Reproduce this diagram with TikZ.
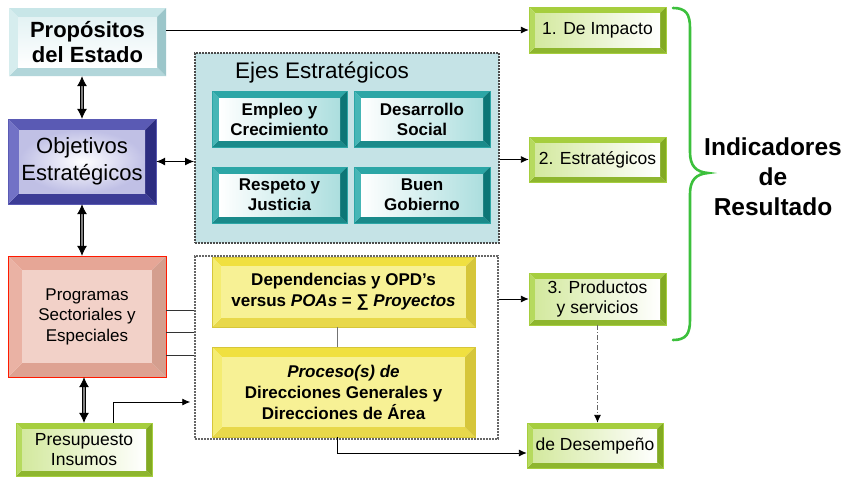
\documentclass[tikz,border=0pt]{standalone}
\usepackage{fontspec}
\setmainfont{Liberation Sans}
\usetikzlibrary{arrows.meta}
\definecolor{prT}{HTML}{C8E6E8}\definecolor{prL}{HTML}{D6EDEE}\definecolor{prR}{HTML}{9CC6CA}\definecolor{prB}{HTML}{B2D6DA}
\definecolor{obT}{HTML}{5A5AB4}\definecolor{obL}{HTML}{7272C6}\definecolor{obR}{HTML}{2C2C80}\definecolor{obB}{HTML}{3C3C96}
\definecolor{pgT}{HTML}{E6A696}\definecolor{pgL}{HTML}{EAB2A4}\definecolor{pgR}{HTML}{D49E8E}\definecolor{pgB}{HTML}{DEA292}
\definecolor{grT}{HTML}{A6CE3E}\definecolor{grL}{HTML}{B6DA5E}\definecolor{grR}{HTML}{82AA22}\definecolor{grB}{HTML}{8EB62E}
\definecolor{tlT}{HTML}{2CA6A6}\definecolor{tlL}{HTML}{46B6B6}\definecolor{tlR}{HTML}{0C7676}\definecolor{tlB}{HTML}{1A8A8A}
\definecolor{ylT}{HTML}{F0E040}\definecolor{ylL}{HTML}{F4EC72}\definecolor{ylR}{HTML}{D6C63A}\definecolor{ylB}{HTML}{E8D84A}
\definecolor{ejesfill}{HTML}{C5E3E6}
\definecolor{bracegreen}{HTML}{3CC03C}
\tikzset{
  pr-top/.style={fill=prT}, pr-left/.style={fill=prL}, pr-right/.style={fill=prR}, pr-bot/.style={fill=prB},
  pr-inner/.style={top color=prT!50, bottom color=white}, pr-border/.style={draw=none},
  pr-text/.style={font=\fontsize{22}{25}\selectfont\bfseries, align=center},
  ob-top/.style={fill=obT}, ob-left/.style={fill=obL}, ob-right/.style={fill=obR}, ob-bot/.style={fill=obB},
  ob-inner/.style={inner color=white, outer color=obL!45}, ob-border/.style={draw=obT, line width=0.8pt},
  ob-text/.style={font=\fontsize{22}{27}\selectfont, align=center},
  pg-top/.style={fill=pgT}, pg-left/.style={fill=pgL}, pg-right/.style={fill=pgR}, pg-bot/.style={fill=pgB},
  pg-inner/.style={fill=pgL!60!white}, pg-border/.style={draw=red!80!orange, line width=1pt},
  pg-text/.style={font=\fontsize{17}{20.5}\selectfont, align=center},
  gr-top/.style={fill=grT}, gr-left/.style={fill=grL}, gr-right/.style={fill=grR}, gr-bot/.style={fill=grB},
  gr-inner/.style={left color=grL!60!white, right color=white}, gr-border/.style={draw=grT, line width=0.8pt},
  gr-text/.style={font=\fontsize{17.5}{20}\selectfont, align=center},
  tl-top/.style={fill=tlT}, tl-left/.style={fill=tlL}, tl-right/.style={fill=tlR}, tl-bot/.style={fill=tlB},
  tl-inner/.style={left color=white, right color=tlL!45!white}, tl-border/.style={draw=tlT, line width=0.6pt},
  tl-text/.style={font=\fontsize{17}{20}\selectfont\bfseries, align=center},
  yl-top/.style={fill=ylT}, yl-left/.style={fill=ylL}, yl-right/.style={fill=ylR}, yl-bot/.style={fill=ylB},
  yl-inner/.style={fill=ylL!75!white}, yl-border/.style={draw=ylR, line width=0.8pt},
  yl-text/.style={font=\fontsize{17}{21}\selectfont\bfseries, align=center},
  arr/.style={draw=black, line width=0.9pt, -{Latex[length=8pt,width=7pt]}},
  dblarr/.style={draw=black, line width=1pt, {Latex[length=9pt,width=8pt]}-{Latex[length=9pt,width=8pt]}},
  thickarr/.style={draw=black, line width=0.8pt, double=black!50, double distance=1.6pt,
    {Latex[length=10pt,width=10pt,color=black]}-{Latex[length=10pt,width=10pt,color=black]}},
  plainline/.style={draw=black!80, line width=0.9pt},
  ejesbox/.style={draw=black!70, fill=ejesfill, line width=2pt, dash pattern=on 2pt off 1pt, inner sep=0pt},
  procbox/.style={draw=black!60, fill=white, line width=1.5pt, dash pattern=on 2pt off 1pt, inner sep=0pt},
}
\newcommand{\bevelbox}[8]{%
  \fill[#7-top] (#2,#3) -- (#4,#3) -- ({#4-#6},{#3+#6}) -- ({#2+#6},{#3+#6}) -- cycle;
  \fill[#7-bot] (#2,#5) -- (#4,#5) -- ({#4-#6},{#5-#6}) -- ({#2+#6},{#5-#6}) -- cycle;
  \fill[#7-left] (#2,#3) -- ({#2+#6},{#3+#6}) -- ({#2+#6},{#5-#6}) -- (#2,#5) -- cycle;
  \fill[#7-right] (#4,#3) -- ({#4-#6},{#3+#6}) -- ({#4-#6},{#5-#6}) -- (#4,#5) -- cycle;
  \path[#7-inner] ({#2+#6},{#3+#6}) rectangle ({#4-#6},{#5-#6});
  \node[#7-text, inner sep=0pt, minimum width={(#4-#2)*1pt}, minimum height={(#5-#3)*1pt}] (#1) at ({(#2+#4)/2},{(#3+#5)/2}) {#8};
  \draw[#7-border] (#2,#3) rectangle (#4,#5);
}
\begin{document}
\begin{tikzpicture}[x=1pt,y=-1pt]
\useasboundingbox (0,0) rectangle (847,477);
\fill[white] (0,0) rectangle (847,477);

% containers
\node[ejesbox, minimum width=304pt, minimum height=190pt] (ejes) at (347,148) {};
\node[font=\fontsize{22.5}{26}\selectfont, anchor=base] (ejestitle) at (322,78) {Ejes Estratégicos};
\node[procbox, minimum width=303pt, minimum height=183pt] (procs) at (346.5,347.5) {};

% left column
\bevelbox{prop}{9}{8}{166}{76}{9}{pr}{Propósitos\\del Estado}
\bevelbox{obj}{8}{119}{156}{204}{11}{ob}{Objetivos\\Estratégicos}
\bevelbox{prog}{8}{256}{166}{377}{14}{pg}{Programas\\Sectoriales y\\Especiales}
\bevelbox{pres}{16}{423}{152}{476}{6}{gr}{Presupuesto\\Insumos}

% ejes boxes
\bevelbox{emp}{212}{91}{347}{147}{7}{tl}{Empleo y\\Crecimiento}
\bevelbox{des}{354}{91}{490}{147}{7}{tl}{Desarrollo\\Social}
\bevelbox{res}{212}{167}{347}{223}{7}{tl}{Respeto y\\Justicia}
\bevelbox{bue}{354}{167}{490}{223}{7}{tl}{Buen\\Gobierno}

% yellow boxes
\bevelbox{dep}{212}{257}{475}{327}{9}{yl}{Dependencias y OPD’s\\versus \textit{POAs} = ∑ \textit{Proyectos}}
\bevelbox{pro}{212}{347}{475}{437}{10}{yl}{\textit{Proceso(s) de}\\Direcciones Generales y\\Direcciones de Área}

% right column
\bevelbox{imp}{529}{7}{666}{53}{6}{gr}{1. De Impacto}
\bevelbox{est}{529}{137}{666}{182}{6}{gr}{2. Estratégicos}
\bevelbox{prd}{529}{273}{666}{325}{6}{gr}{3. Productos\\y servicios}
\bevelbox{dsm}{527}{423}{663}{468}{6}{gr}{de Desempeño}

% brace and label
\draw[bracegreen, line width=2.6pt, line cap=round]
  (673,8) .. controls (686,8) and (690,14) .. (690,28) -- (690,152)
  .. controls (690,166) and (696,172) .. (708,173)
  .. controls (696,174) and (690,180) .. (690,194) -- (690,320)
  .. controls (690,334) and (686,340) .. (673,340);
\node[font=\fontsize{24.5}{30}\selectfont\bfseries, align=center] (ind) at (773,177) {Indicadores\\de\\Resultado};

% connectors
\draw[arr] (prop.east |- imp.west) -- (imp.west);
\draw[thickarr] (obj.north |- prop.south) -- (obj.north);
\draw[thickarr] (obj.south) -- (obj.south |- prog.north);
\draw[thickarr] (pres.north |- prog.south) -- (pres.north);
\draw[dblarr] (obj.east) -- (obj.east -| ejes.west);
\draw[arr] (ejes.east |- est.west) -- (est.west);
\coordinate (pl1) at ([yshift=6.5pt]prog.east);
\coordinate (pl2) at ([yshift=-15.5pt]prog.east);
\coordinate (pl3) at ([yshift=-38.5pt]prog.east);
\draw[plainline] (pl1) -- (pl1 -| procs.west);
\draw[plainline] (pl2) -- (pl2 -| procs.west);
\draw[plainline] (pl3) -- (pl3 -| procs.west);
\coordinate (pb) at ([xshift=29pt]pres.north);
\coordinate (pc) at ([yshift=-54.5pt,xshift=-4pt]procs.west);
\draw[arr] (pb) |- (pc);
\draw[arr] (procs.east |- prd.west) -- (prd.west);
\draw[draw=black!55, line width=1.2pt] ([xshift=-6pt]dep.south) -- ([xshift=-6pt]dep.south |- pro.north);
\coordinate (pd) at ([yshift=-7.5pt]dsm.west);
\draw[arr] ([xshift=-6pt]pro.south) |- (pd);
\draw[draw=black!60, line width=0.9pt, dash pattern=on 5pt off 2pt on 1pt off 2pt, -{Latex[length=8pt,width=7pt,color=black]}] (prd.south) -- (prd.south |- dsm.north);
\end{tikzpicture}
\end{document}
